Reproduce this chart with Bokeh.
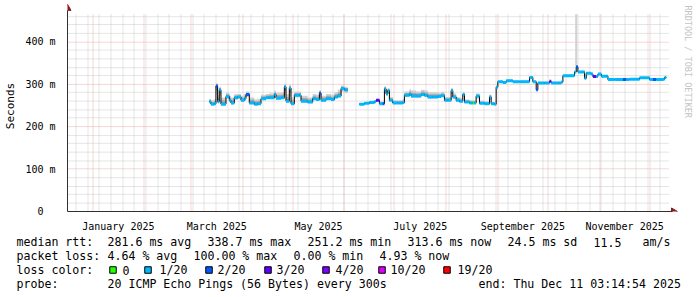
import math
import pandas as pd
from bokeh.plotting import figure
from bokeh.models import Range1d, FixedTicker, DatetimeTickFormatter
from bokeh.core.properties import value
from bokeh.layouts import column
from bokeh.embed import file_html
from bokeh.resources import INLINE

# ---------------- data ----------------
dates = [
    "2025-03-12", "2025-03-13", "2025-03-15", "2025-03-16", "2025-03-17", "2025-03-18", "2025-03-19",
    "2025-03-22", "2025-03-24", "2025-03-25", "2025-03-27", "2025-03-29", "2025-03-31", "2025-04-02",
    "2025-04-03", "2025-04-05", "2025-04-08", "2025-04-10", "2025-04-12", "2025-04-15", "2025-04-17",
    "2025-04-20", "2025-04-21", "2025-04-24", "2025-04-26", "2025-04-27", "2025-04-29", "2025-04-30",
    "2025-05-02", "2025-05-05", "2025-05-06", "2025-05-10", "2025-05-13", "2025-05-15", "2025-05-17",
    "2025-05-18", "2025-05-21", "2025-05-24", "2025-05-26", "2025-05-28", "2025-05-30", "2025-06-01",
    "2025-06-02", "2025-06-06",
    "2025-06-10", "2025-06-13", "2025-06-16", "2025-06-19", "2025-06-20", "2025-06-22", "2025-06-24",
    "2025-06-25", "2025-06-26", "2025-06-27", "2025-06-28", "2025-06-30", "2025-07-03", "2025-07-06",
    "2025-07-07", "2025-07-10", "2025-07-11", "2025-07-14", "2025-07-17", "2025-07-19", "2025-07-21",
    "2025-07-24", "2025-07-27", "2025-07-29", "2025-07-31", "2025-08-02", "2025-08-04", "2025-08-05",
    "2025-08-07", "2025-08-09", "2025-08-11", "2025-08-12", "2025-08-15", "2025-08-17", "2025-08-18",
    "2025-08-19", "2025-08-21", "2025-08-24", "2025-08-27", "2025-08-28", "2025-08-30", "2025-08-31",
    "2025-09-01", "2025-09-04", "2025-09-06", "2025-09-10", "2025-09-14", "2025-09-19", "2025-09-20",
    "2025-09-22", "2025-09-24", "2025-09-25", "2025-09-29", "2025-10-02", "2025-10-03", "2025-10-08",
    "2025-10-09", "2025-10-10", "2025-10-14", "2025-10-17", "2025-10-18", "2025-10-19", "2025-10-22",
    "2025-10-23", "2025-10-24", "2025-10-27", "2025-10-28", "2025-10-30", "2025-10-31", "2025-11-02",
    "2025-11-05", "2025-11-06", "2025-11-10", "2025-11-15", "2025-11-17", "2025-11-19", "2025-11-23",
    "2025-11-25", "2025-11-29", "2025-12-01", "2025-12-03", "2025-12-05", "2025-12-09", "2025-12-10",
]
# median rtt in ms (None = no data)
rtt_ms = [
    259, 253, 254, 296, 259, 287, 253,
    271, 262, 256, 268, 270, 262, 266,
    276, 256, 253, 254, 266, 268, 268,
    276, 267, 268, 294, 260, 291, 254,
    274, 274, 260, 258, 266, 264, 279,
    262, 266, 264, 270, 272, 290, 287,
    287, None,
    253, 255, 257, 259, 262, 254, 254,
    289, 277, 285, 262, 256, 256, 257,
    274, 277, 272, 272, 276, 274, 270,
    270, 271, 273, 262, 262, 285, 270,
    262, 260, 276, 258, 256, 256, 256,
    272, 255, 254, 270, 254, 253, 293,
    306, 304, 308, 306, 306, 306, 316,
    306, 287, 303, 303, 307, 303, 303,
    305, 320, 320, 329, 341, 329, 329,
    314, 326, 324, 318, 318, 324, 319,
    319, 311, 311, 311, 311, 312, 312,
    315, 315, 311, 311, 311, 312, 316,
]
# loss class index into loss_colors
loss_idx = [
    1, 1, 1, 2, 1, 1, 1,
    1, 1, 1, 1, 1, 1, 1,
    2, 1, 1, 1, 1, 1, 1,
    1, 1, 1, 1, 1, 1, 1,
    1, 1, 1, 1, 1, 1, 2,
    1, 1, 1, 1, 1, 1, 1,
    1, 1,
    1, 1, 1, 1, 3, 1, 2,
    1, 1, 1, 1, 1, 1, 1,
    1, 1, 1, 1, 1, 1, 1,
    1, 1, 1, 1, 1, 1, 1,
    1, 1, 1, 1, 1, 0, 1,
    1, 1, 1, 1, 1, 1, 1,
    1, 1, 1, 1, 1, 1, 1,
    1, 2, 1, 1, 4, 1, 1,
    1, 1, 1, 1, 2, 1, 1,
    1, 1, 1, 3, 1, 1, 1,
    1, 1, 1, 2, 1, 1, 1,
    1, 1, 1, 2, 1, 1, 1,
]
# smoke spread above / below the median (ms)
smoke_up = [
    7, 9, 11, 7, 15, 7, 15,
    9, 11, 13, 9, 7, 11, 11,
    7, 13, 11, 11, 9, 9, 11,
    9, 13, 13, 7, 17, 7, 15,
    9, 9, 13, 11, 11, 11, 7,
    11, 11, 11, 11, 15, 7, 7,
    7, 0,
    3, 3, 4, 4, 4, 6, 6,
    6, 10, 6, 8, 6, 6, 8,
    9, 11, 13, 11, 11, 11, 11,
    11, 9, 9, 8, 8, 6, 8,
    8, 8, 6, 6, 6, 6, 6,
    6, 6, 6, 6, 4, 4, 4,
    3, 3, 3, 3, 3, 3, 3,
    3, 3, 3, 3, 3, 3, 3,
    3, 3, 3, 3, 3, 3, 3,
    3, 3, 3, 3, 3, 3, 3,
    3, 2, 2, 2, 2, 2, 2,
    2, 2, 2, 2, 2, 2, 2,
]
smoke_dn = [
    2, 2, 2, 20, 3, 15, 2,
    6, 4, 3, 4, 4, 3, 3,
    6, 2, 2, 2, 3, 3, 3,
    4, 3, 3, 18, 3, 20, 2,
    5, 5, 3, 3, 3, 3, 10,
    3, 3, 3, 3, 3, 8, 8,
    8, 0,
    1, 1, 1, 1, 1, 1, 1,
    10, 4, 8, 3, 2, 2, 2,
    4, 4, 4, 4, 4, 4, 4,
    3, 3, 3, 2, 2, 8, 4,
    3, 3, 6, 2, 2, 2, 2,
    6, 2, 2, 6, 2, 2, 2,
    1, 1, 1, 1, 1, 1, 1,
    1, 1, 1, 1, 1, 1, 1,
    1, 1, 1, 1, 1, 1, 1,
    1, 1, 1, 1, 1, 1, 1,
    1, 1, 1, 1, 1, 1, 1,
    1, 1, 1, 1, 1, 1, 1,
]
# single outlier of the maximum ping
peak_dates = ["2025-10-18"]
peak_base = [342]
peak_top = [465]

loss_colors = ["#26ff00", "#00b8ff", "#0059ff", "#5e00ff", "#7e00ff", "#dd00ff", "#ff0000"]
loss_labels = ["0", "1/20", "2/20", "3/20", "4/20", "10/20", "19/20"]

y_ticks = [0, 100, 200, 300, 400]
y_tick_labels = ["0\u00a0\u00a0", "100 m", "200 m", "300 m", "400 m"]
y_top = 465
x_label_months = ["2025-01", "2025-03", "2025-05", "2025-07", "2025-09", "2025-11"]

range_start = "2024-12-17 00:00"
range_end = "2025-12-12 22:00"

stats_rtt = ["median rtt:", "281.6 ms avg", "338.7 ms max", "251.2 ms min",
             "313.6 ms now", "24.5 ms sd", "11.5", "am/s"]
stats_loss = ["packet loss:", "4.64 % avg", "100.00 % max", "0.00 % min", "4.93 % now"]
probe_text = ["probe:", "20 ICMP Echo Pings (56 Bytes) every 300s", "end: Thu Dec 11 03:14:54 2025"]
credit = "RRDTOOL / TOBI OETIKER"

# ---------------- layout geometry ----------------
LEFT, BOTTOM_PX, GRAPH_W, GRAPH_H, TOP_PAD, RIGHT_PAD = 67, 215, 602, 201, 14, 28
PIX_OFF = 0.5
MONO = value("DejaVu Sans Mono")
t0, t1 = pd.Timestamp(range_start), pd.Timestamp(range_end)
DAY = pd.Timedelta(days=1)
ppd = GRAPH_W / ((t1 - t0) / DAY)          # pixels per day
ppv = GRAPH_H / y_top                        # pixels per ms
x_end = t0 + DAY * ((GRAPH_W + RIGHT_PAD) / ppd)
y_end = (GRAPH_H + TOP_PAD) / ppv


def ms(ts):
    return (pd.Timestamp(ts) - pd.Timestamp("1970-01-01")) / pd.Timedelta(milliseconds=1)


def x_at(px):          # data x for a pixel offset from the frame's left edge
    return t0 + DAY * (px / ppd)


def y_at(px):          # data y for a pixel offset above the frame bottom
    return px / ppv


def snap_x(t):         # put a grid line on a pixel centre so its dots stay crisp
    px = ((pd.Timestamp(t) - t0) / DAY) * ppd
    return x_at(math.floor(px) + PIX_OFF)


def snap_y(v):
    py = BOTTOM_PX - v * ppv
    return (BOTTOM_PX - (math.floor(py) + PIX_OFF)) / ppv


# ---------------- main plot ----------------
p = figure(width=697, height=234, x_axis_type="datetime",
           x_range=Range1d(t0, x_end), y_range=Range1d(0, y_end),
           output_backend="svg", toolbar_location=None,
           min_border_left=LEFT, min_border_right=0, min_border_top=0, min_border_bottom=19)
p.frame_align = False
p.outline_line_color = None
p.background_fill_color = "white"
p.border_fill_color = "white"
p.xgrid.visible = False
p.ygrid.visible = False

# grid (dotted): weekly / 20 ms minor, monthly / 100 ms major
weeks = [snap_x(d) for d in pd.date_range(t0, t1, freq="W-SUN")]
months = [snap_x(d) for d in pd.date_range(t0, t1, freq="MS")]
minor_y = [snap_y(v) for v in range(20, y_top, 20) if v % 100 != 0]
major_y = [snap_y(v) for v in y_ticks[1:]]
gx0, gx1 = t0, t1
MINOR_COL, MAJOR_COL = "#cacaca", "#ecaeae"
for xs, col in ((weeks, MINOR_COL), (months, MAJOR_COL)):
    p.segment(x0=xs, y0=[0] * len(xs), x1=xs, y1=[y_top] * len(xs),
              line_color=col, line_width=1, line_dash="1 1")
for ys, col in ((minor_y, MINOR_COL), (major_y, MAJOR_COL)):
    p.segment(x0=[gx0] * len(ys), y0=ys, x1=[gx1] * len(ys), y1=ys,
              line_color=col, line_width=1, line_dash="1 1")

# x axis: labels centred in the month
mids = []
for m in x_label_months:
    s = pd.Timestamp(m + "-01")
    e = s + pd.offsets.MonthBegin(1)
    mids.append(ms(s + (e - s) / 2))
fmt = "%B %Y"
p.xaxis.ticker = FixedTicker(ticks=mids)
p.xaxis.formatter = DatetimeTickFormatter(
    microseconds=fmt, milliseconds=fmt, seconds=fmt, minsec=fmt, minutes=fmt,
    hourmin=fmt, hours=fmt, days=fmt, months=fmt, years=fmt, context=None)
p.yaxis.ticker = FixedTicker(ticks=y_ticks)
p.yaxis.major_label_overrides = {t: l for t, l in zip(y_ticks, y_tick_labels)}
p.yaxis.axis_label = "Seconds"
p.xaxis.bounds = (ms(t0), ms(x_at(GRAPH_W + 3)))
p.yaxis.bounds = (0, y_at(GRAPH_H + 4))

for ax in (p.xaxis, p.yaxis):
    ax.major_tick_line_color = None
    ax.minor_tick_line_color = None
    ax.axis_line_color = "#303030"
    ax.major_label_text_font = "DejaVu Sans Mono"
    ax.major_label_text_font_size = "10px"
    ax.major_label_text_color = "#000000"
    ax.axis_label_text_font = "DejaVu Sans Mono"
    ax.axis_label_text_font_size = "11px"
    ax.axis_label_text_font_style = "normal"
    ax.axis_label_text_color = "#000000"
p.xaxis.major_label_standoff = 3
p.yaxis.major_label_standoff = 6
p.yaxis.axis_label_standoff = 5

# data
df = pd.DataFrame(dict(date=pd.to_datetime(dates), rtt=pd.array(rtt_ms, dtype="Float64").astype(float),
                       loss=loss_idx, up=smoke_up, dn=smoke_dn))
seg_id = df["rtt"].isna().cumsum()
valid = df["rtt"].notna()

# max ping outlier (light smoke)
p.vbar(x=pd.to_datetime(peak_dates), bottom=peak_base, top=peak_top,
       width=pd.Timedelta(hours=30) / pd.Timedelta(milliseconds=1),
       fill_color="#d2d2d2", line_color=None)

for _, g in df[valid].groupby(seg_id[valid]):
    g = g.reset_index(drop=True)
    nxt = g["date"].shift(-1)
    nxt.iloc[-1] = g["date"].iloc[-1] + DAY
    last = g.iloc[[-1]].copy()
    last["date"] = nxt.iloc[-1]
    ext = pd.concat([g, last], ignore_index=True)
    for fu, fd, col in ((1.0, 1.0, "#d0d0d0"), (0.6, 0.55, "#a8a8a8"), (0.28, 0.25, "#7e7e7e")):
        p.varea_step(x=ext["date"], y1=ext["rtt"] - ext["dn"] * fd, y2=ext["rtt"] + ext["up"] * fu,
                     step_mode="after", fill_color=col)
    p.step(x=ext["date"], y=ext["rtt"], mode="after", line_color="#000000", line_width=1)
    p.segment(x0=g["date"], y0=g["rtt"], x1=nxt, y1=g["rtt"],
              line_color=[loss_colors[i] for i in g["loss"]], line_width=3)

# axis arrows and rrdtool credit
p.scatter(x=[t0], y=[y_at(GRAPH_H + 6)], marker="triangle", size=7,
          fill_color="#8b1a1a", line_color="#8b1a1a")
p.scatter(x=[x_at(GRAPH_W + 4)], y=[0], marker="triangle", size=7, angle=-math.pi / 2,
          fill_color="#8b1a1a", line_color="#8b1a1a")
p.text(x=[x_at(GRAPH_W + 18)], y=[y_at(GRAPH_H + TOP_PAD - 5)], text=[credit], angle=-math.pi / 2,
       text_align="left", text_baseline="middle", text_font=MONO, text_font_size="8.5px",
       text_color="#c4c4c4")

# ---------------- legend / statistics block ----------------
q = figure(width=697, height=63, x_range=Range1d(0, 697), y_range=Range1d(63, 0),
           x_axis_location=None, y_axis_location=None, output_backend="svg",
           toolbar_location=None, min_border=0)
q.frame_align = False
q.outline_line_color = None
q.xgrid.visible = False
q.ygrid.visible = False

row_y = [7.5, 21.5, 35.5, 49.5]
rtt_x = [16, 107, 207, 307, 407, 507, 593, 642]
loss_x = [16, 107, 193, 293, 379]
box_x = [109, 144, 205, 264, 322, 378, 443]
box_lbl_x = [122, 159, 217, 276, 335, 390, 457]
probe_x = [16, 107, 478]

tx, ty, tt = [], [], []
for xs, items, yy in ((rtt_x, stats_rtt, row_y[0]), (loss_x, stats_loss, row_y[1]),
                      ([16], ["loss color:"], row_y[2]), (box_lbl_x, loss_labels, row_y[2]),
                      (probe_x, probe_text, row_y[3])):
    for xv, s in zip(xs, items):
        tx.append(xv); ty.append(yy); tt.append(s)
q.text(x=tx, y=ty, text=tt, text_font=MONO, text_font_size="11.6px",
       text_baseline="middle", text_align="left", text_color="#000000")
q.rect(x=[b + 3.5 for b in box_x], y=[row_y[2]] * len(box_x), width=6.5, height=6.5,
       fill_color=loss_colors, line_color="#000000", line_width=1)

layout = column(p, q, spacing=0)
open("out.html", "w").write(file_html(layout, INLINE))
